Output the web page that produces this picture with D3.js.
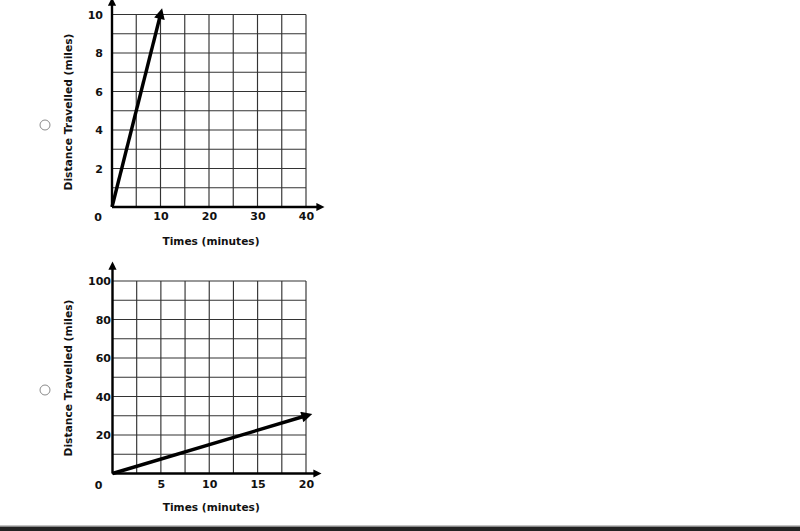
<!DOCTYPE html>
<html>
<head>
<meta charset="utf-8">
<script src="https://cdn.jsdelivr.net/npm/d3@7"></script>
<style>
  html, body { margin: 0; padding: 0; background: #fff; }
  svg { display: block; }
  text { font-family: "DejaVu Sans", Verdana, sans-serif; font-weight: bold; fill: #111; }
</style>
</head>
<body>
<svg id="chart" width="800" height="531"></svg>
<script>
// ---- data ----
const xTitle = "Times (minutes)";
const yTitle = "Distance Travelled (miles)";

// chart A (top)
const aXDomain = [0, 40];
const aYDomain = [0, 10];
const aXGrid = [0, 5, 10, 15, 20, 25, 30, 35, 40];
const aYGrid = [0, 1, 2, 3, 4, 5, 6, 7, 8, 9, 10];
const aXTicks = [10, 20, 30, 40];
const aYTicks = [2, 4, 6, 8, 10];
const aLine = [[0, 0], [10, 10]];

// chart B (bottom)
const bXDomain = [0, 20];
const bYDomain = [0, 100];
const bXGrid = [0, 2.5, 5, 7.5, 10, 12.5, 15, 17.5, 20];
const bYGrid = [0, 10, 20, 30, 40, 50, 60, 70, 80, 90, 100];
const bXTicks = [5, 10, 15, 20];
const bYTicks = [20, 40, 60, 80, 100];
const bLine = [[0, 0], [20, 30]];

const svg = d3.select("#chart");
const tickFont = "11px";

// arrow markers
const defs = svg.append("defs");
defs.append("marker")
  .attr("id", "arrow")
  .attr("viewBox", "0 0 10 10")
  .attr("refX", 4).attr("refY", 5)
  .attr("markerWidth", 4).attr("markerHeight", 3.2)
  .attr("markerUnits", "strokeWidth")
  .attr("orient", "auto")
  .append("path").attr("d", "M0,0 L10,5 L0,10 Z").attr("fill", "#000");
defs.append("marker")
  .attr("id", "axarrow")
  .attr("viewBox", "0 0 10 10")
  .attr("refX", 2).attr("refY", 5)
  .attr("markerWidth", 5).attr("markerHeight", 3.4)
  .attr("markerUnits", "strokeWidth")
  .attr("orient", "auto")
  .append("path").attr("d", "M0,0 L10,5 L0,10 Z").attr("fill", "#000");

function drawChart(cfg) {
  const x = d3.scaleLinear().domain(cfg.xDomain).range([cfg.left, cfg.right]);
  const y = d3.scaleLinear().domain(cfg.yDomain).range([cfg.bottom, cfg.top]);
  const g = svg.append("g");

  // grid
  g.append("g").selectAll("line").data(cfg.xGrid).join("line")
    .attr("x1", d => x(d)).attr("x2", d => x(d))
    .attr("y1", y(cfg.yDomain[0])).attr("y2", y(cfg.yDomain[1]))
    .attr("stroke", "#333").attr("stroke-width", 1.15);
  g.append("g").selectAll("line").data(cfg.yGrid).join("line")
    .attr("y1", d => y(d)).attr("y2", d => y(d))
    .attr("x1", x(cfg.xDomain[0])).attr("x2", x(cfg.xDomain[1]))
    .attr("stroke", "#333").attr("stroke-width", 1.15);

  // axes with arrows
  g.append("line")
    .attr("x1", x(0)).attr("y1", y(0))
    .attr("x2", cfg.xArrowEnd - 4).attr("y2", y(0))
    .attr("stroke", "#000").attr("stroke-width", 2.4)
    .attr("marker-end", "url(#axarrow)");
  g.append("line")
    .attr("x1", x(0)).attr("y1", y(0))
    .attr("x2", x(0)).attr("y2", cfg.yArrowEnd + 4)
    .attr("stroke", "#000").attr("stroke-width", 2.4)
    .attr("marker-end", "url(#axarrow)");

  // tick labels via d3 axes
  const xa = g.append("g")
    .attr("transform", `translate(0,${y(0)})`)
    .call(d3.axisBottom(x).tickValues(cfg.xTicks).tickSize(0).tickPadding(cfg.xPad));
  xa.select(".domain").remove();
  xa.selectAll("text").style("font-size", tickFont).style("font-family", "DejaVu Sans").style("font-weight", "bold").attr("fill", "#111");

  const ya = g.append("g")
    .attr("transform", `translate(${x(0)},0)`)
    .call(d3.axisLeft(y).tickValues(cfg.yTicks).tickSize(0).tickPadding(cfg.yPad));
  ya.select(".domain").remove();
  ya.selectAll("text").style("font-size", tickFont).style("font-family", "DejaVu Sans").style("font-weight", "bold").attr("fill", "#111");

  // corner zero
  g.append("text")
    .attr("x", x(0) - 14).attr("y", cfg.zeroBaseline)
    .attr("text-anchor", "middle")
    .style("font-size", tickFont)
    .text("0");

  // data line
  const line = d3.line().x(d => x(d[0])).y(d => y(d[1]));
  g.append("path")
    .datum(cfg.line)
    .attr("d", line)
    .attr("fill", "none")
    .attr("stroke", "#000")
    .attr("stroke-width", 3.4)
    .attr("marker-end", "url(#arrow)");

  // titles
  g.append("text")
    .attr("x", (cfg.left + cfg.right) / 2 + 2)
    .attr("y", cfg.xTitleY)
    .attr("text-anchor", "middle")
    .attr("textLength", 97)
    .attr("lengthAdjust", "spacingAndGlyphs")
    .style("font-size", "10.5px")
    .text(xTitle);
  g.append("text")
    .attr("transform", `translate(${cfg.yTitleX},${cfg.yTitleCenter}) rotate(-90)`)
    .attr("text-anchor", "middle")
    .attr("textLength", 157)
    .attr("lengthAdjust", "spacingAndGlyphs")
    .style("font-size", "10.5px")
    .text(yTitle);

  // radio button
  g.append("circle")
    .attr("cx", 45).attr("cy", cfg.radioY).attr("r", 5)
    .attr("fill", "#fff").attr("stroke", "#8a8a8a").attr("stroke-width", 1);
}

drawChart({
  xDomain: aXDomain, yDomain: aYDomain, xGrid: aXGrid, yGrid: aYGrid,
  xTicks: aXTicks, yTicks: aYTicks, line: aLine,
  left: 112, right: 306, top: 14.5, bottom: 207,
  xArrowEnd: 322, yArrowEnd: 0,
  xPad: 5, yPad: 9, zeroBaseline: 220.5,
  xTitleY: 244.5, yTitleX: 72, yTitleCenter: 112, radioY: 125
});

drawChart({
  xDomain: bXDomain, yDomain: bYDomain, xGrid: bXGrid, yGrid: bYGrid,
  xTicks: bXTicks, yTicks: bYTicks, line: bLine,
  left: 112.5, right: 306, top: 281, bottom: 473.5,
  xArrowEnd: 319, yArrowEnd: 264,
  xPad: 6.5, yPad: 1.5, zeroBaseline: 488.5,
  xTitleY: 511, yTitleX: 72, yTitleCenter: 378, radioY: 390
});

// bottom bar
svg.append("rect").attr("x", 0).attr("y", 525.5).attr("width", 800).attr("height", 1.5).attr("fill", "#888");
svg.append("rect").attr("x", 0).attr("y", 527).attr("width", 800).attr("height", 4).attr("fill", "#222");
</script>
</body>
</html>
